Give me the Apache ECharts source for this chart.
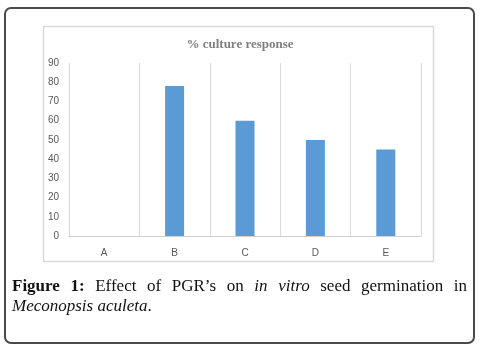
<!DOCTYPE html>
<html><head><meta charset="utf-8">
<script src="https://cdn.jsdelivr.net/npm/echarts@6/dist/echarts.min.js"></script>
<style>
html,body{margin:0;padding:0;background:#fff;}
#wrap{position:relative;width:480px;height:350px;}
#frame{position:absolute;left:4px;top:7px;width:467px;height:333px;border:2px solid #4a4a4a;border-radius:7px;}
#chart{position:absolute;left:0;top:0;width:480px;height:350px;}
#cap{position:absolute;left:12px;top:276px;width:455px;font-family:"Liberation Serif",serif;font-size:17px;line-height:20px;color:#111;}
#cap .l1{text-align:justify;text-align-last:justify;white-space:nowrap;}
</style></head>
<body><div id="wrap"><div id="frame"></div><div id="chart"></div>
<div id="cap"><div class="l1"><b>Figure 1:</b> Effect of PGR’s on <i>in vitro</i> seed germination in</div><div><i>Meconopsis aculeta</i>.</div></div></div>
<script>
const categories = ['A','B','C','D','E'];
const values = [0, 78, 60, 50, 45];
const chartTitle = '% culture response';
const chart = echarts.init(document.getElementById('chart'));
chart.setOption({
  animation:false,
  title:{text:chartTitle,left:'center',top:33,textStyle:{fontFamily:'Liberation Serif',fontWeight:'bold',fontSize:13,color:'#7f7f7f'}},
  graphic:[{type:'rect',shape:{x:43.5,y:26.5,width:390,height:235},style:{fill:'none',stroke:'#d9d9d9',lineWidth:1.5},silent:true}],
  grid:{left:69,right:59,top:63,bottom:114},
  xAxis:{type:'category',data:categories,boundaryGap:true,
    axisLine:{lineStyle:{color:'#d0d0d0',width:1}},axisTick:{show:false},
    splitLine:{show:true,lineStyle:{color:'#d9d9d9',width:1}},
    axisLabel:{color:'#595959',fontSize:10,fontFamily:'Liberation Sans',margin:12}},
  yAxis:{type:'value',min:0,max:90,interval:10,
    axisLine:{show:false},axisTick:{show:false},splitLine:{show:false},
    axisLabel:{color:'#595959',fontSize:10,fontFamily:'Liberation Sans',margin:10}},
  series:[{type:'bar',data:values,barWidth:19,itemStyle:{color:'#5b9bd5'}}]
});
</script></body></html>
